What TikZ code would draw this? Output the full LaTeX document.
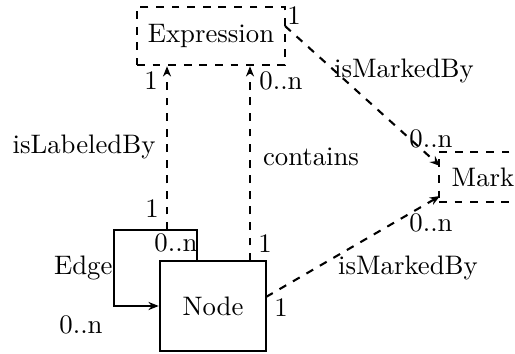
\documentclass[tikz,border=0pt]{standalone}
\usetikzlibrary{arrows.meta, positioning}

\begin{document}
\begin{tikzpicture}[x=0.01354cm, y=-0.01354cm,
      font=\fontsize{10.3pt}{12pt}\selectfont,
      entity/.style={rectangle, draw, thick, align=center, inner sep=0pt},
      weak/.style={entity, dashed},
      arr/.style={-{Stealth[length=1.4mm, width=1.1mm]}, thick},
      rel/.style={arr, dashed},
      lbl/.style={inner sep=0pt}]
    \useasboundingbox (0,0) rectangle (515,354);
    \node[weak, minimum width=2.0cm, minimum height=0.79cm] (expr) at (211,36) {Expression};
    \node[weak, minimum width=1.19cm, minimum height=0.68cm] (mark) at (483,177) {Mark};
    \node[entity, minimum width=1.44cm, minimum height=1.23cm] (node) at (213,306) {Node};
    % self loop
    \coordinate (edgeTR) at (197,230);
    \coordinate (edgeTL) at (114,230);
    \coordinate (edgeBL) at (114,306);
    \coordinate (edgeTop) at (167,230);
    \draw[arr] (edgeTR |- node.north) -- (edgeTR) -- (edgeTL) -- (edgeBL) -- (edgeBL -| node.west);
    \node[lbl, anchor=east] (edge) at (113,268) {Edge};
    \node[lbl] at (176,243) {0..n};
    \node[lbl] at (81,325) {0..n};
    % relations
    \draw[rel] (edgeTop) -- (edgeTop |- expr.south);
    \node[lbl] at (152,209) {1};
    \node[lbl] at (151,81) {1};
    \node[lbl] at (84,147) {isLabeledBy};
    \coordinate (nodeTop) at (250,261);
    \draw[rel] (nodeTop) -- (nodeTop |- expr.south);
    \node[lbl] at (265,244) {1};
    \node[lbl] at (281,81) {0..n};
    \node[lbl] at (311,157) {contains};
    \coordinate (exprOut) at (285,26);
    \coordinate (markInA) at (440,166);
    \draw[rel] (exprOut) -- (markInA);
    \node[lbl] at (294,16) {1};
    \node[lbl] at (404,71) {isMarkedBy};
    \node[lbl] at (431,139) {0..n};
    \coordinate (nodeOut) at (266,297);
    \coordinate (markInB) at (440,196);
    \draw[rel] (nodeOut) -- (markInB);
    \node[lbl] at (281,308) {1};
    \node[lbl] at (431,223) {0..n};
    \node[lbl] at (408,268) {isMarkedBy};
\end{tikzpicture}
\end{document}
